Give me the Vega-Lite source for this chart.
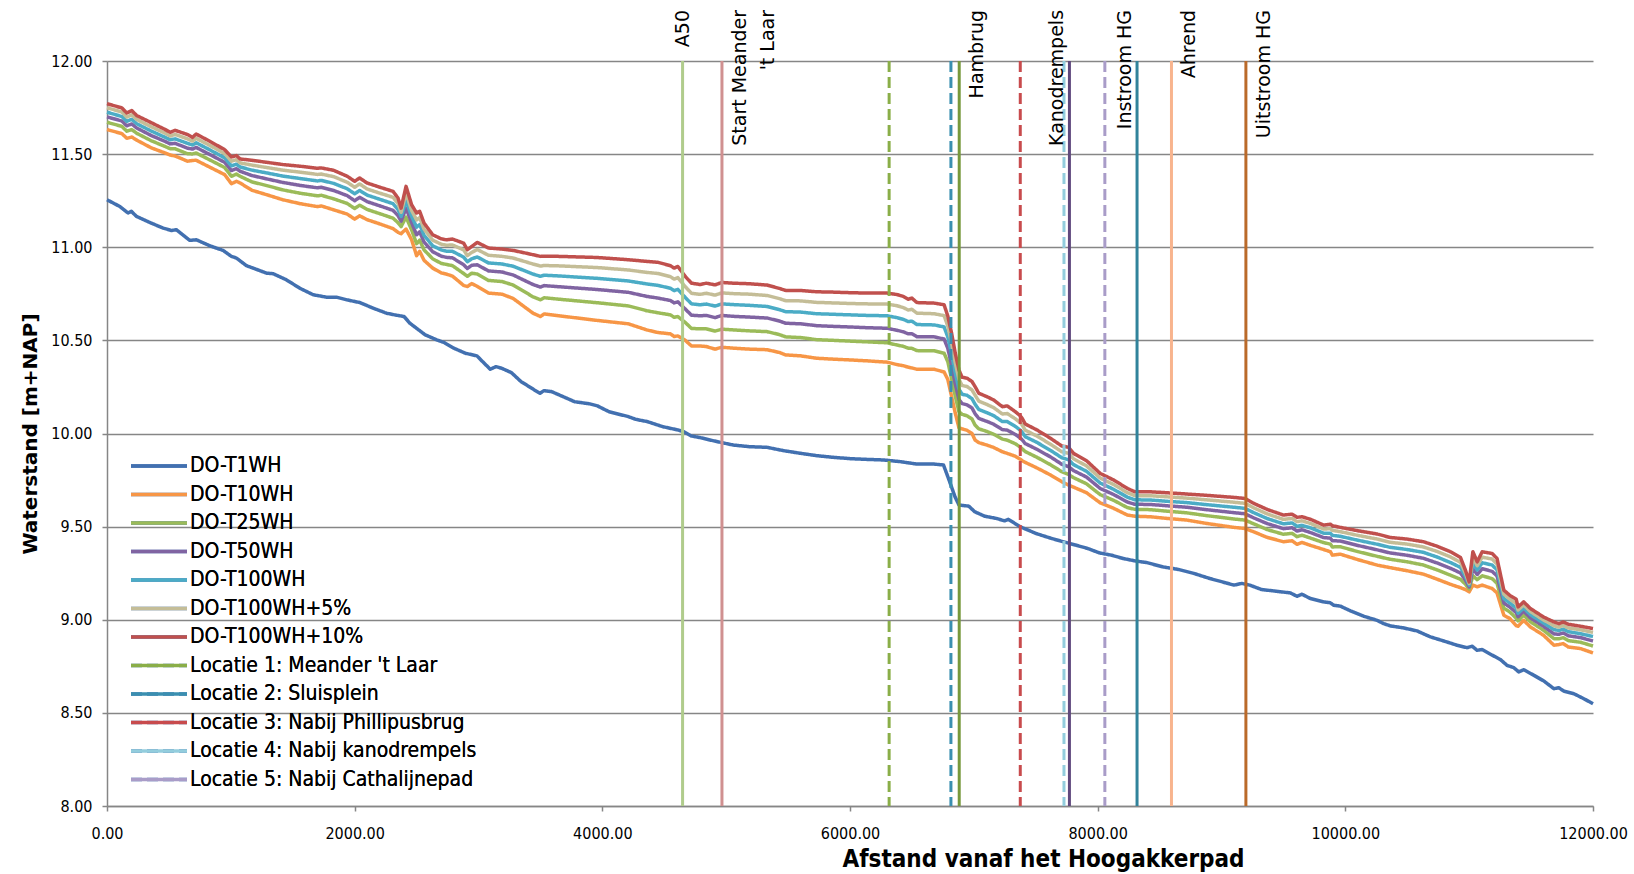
{
  "$schema": "https://vega.github.io/schema/vega-lite/v6.json",
  "width": 1486,
  "height": 745,
  "autosize": {"type": "none"},
  "padding": {"left": 107, "top": 61, "right": 41, "bottom": 68},
  "background": "#ffffff",
  "config": {
    "view": {"stroke": null},
    "axis": {
      "domainColor": "#868686", "domainWidth": 1.5,
      "gridColor": "#868686", "gridWidth": 1.5,
      "tickColor": "#868686", "tickWidth": 1.5, "tickSize": 5,
      "labelFont": "Liberation Sans Narrow, DejaVu Sans Condensed, sans-serif",
      "labelFontSize": 16, "labelColor": "#000000", "titleColor": "#000000"
    },
    "axisX": {
      "labelPadding": 14,
      "titleFont": "Liberation Sans Narrow, DejaVu Sans Condensed, sans-serif",
      "titleFontSize": 24, "titleFontWeight": "bold"
    },
    "axisY": {
      "labelPadding": 10,
      "titleFont": "DejaVu Sans", "titleFontSize": 20, "titleFontWeight": "bold"
    },
    "legend": {
      "orient": "none", "legendX": 40, "legendY": 393, "padding": 0,
      "symbolType": "M-2.8,0H2.8", "symbolSize": 400, "symbolStrokeWidth": 3.5,
      "labelFont": "Liberation Sans Narrow, DejaVu Sans Condensed, sans-serif",
      "labelFontSize": 21, "labelColor": "#000000", "labelOffset": 19, "labelLimit": 500,
      "rowPadding": 6.5, "symbolLimit": 0
    }
  },
  "datasets": {
    "peilen": [
      {"x":0,"DO-T10WH":11.632,"DO-T25WH":11.671,"DO-T50WH":11.700,"DO-T100WH":11.725,"DO-T100WH+5%":11.749,"DO-T100WH+10%":11.771},
      {"x":120,"DO-T10WH":11.610,"DO-T25WH":11.649,"DO-T50WH":11.678,"DO-T100WH":11.702,"DO-T100WH+5%":11.726,"DO-T100WH+10%":11.748},
      {"x":160,"DO-T10WH":11.585,"DO-T25WH":11.623,"DO-T50WH":11.652,"DO-T100WH":11.676,"DO-T100WH+5%":11.699,"DO-T100WH+10%":11.721},
      {"x":200,"DO-T10WH":11.592,"DO-T25WH":11.632,"DO-T50WH":11.662,"DO-T100WH":11.687,"DO-T100WH+5%":11.711,"DO-T100WH+10%":11.734},
      {"x":240,"DO-T10WH":11.575,"DO-T25WH":11.612,"DO-T50WH":11.640,"DO-T100WH":11.663,"DO-T100WH+5%":11.686,"DO-T100WH+10%":11.707},
      {"x":360,"DO-T10WH":11.533,"DO-T25WH":11.571,"DO-T50WH":11.599,"DO-T100WH":11.623,"DO-T100WH+5%":11.646,"DO-T100WH+10%":11.668},
      {"x":470,"DO-T10WH":11.506,"DO-T25WH":11.541,"DO-T50WH":11.568,"DO-T100WH":11.590,"DO-T100WH+5%":11.612,"DO-T100WH+10%":11.632},
      {"x":510,"DO-T10WH":11.495,"DO-T25WH":11.529,"DO-T50WH":11.555,"DO-T100WH":11.577,"DO-T100WH+5%":11.597,"DO-T100WH+10%":11.617},
      {"x":550,"DO-T10WH":11.490,"DO-T25WH":11.529,"DO-T50WH":11.558,"DO-T100WH":11.582,"DO-T100WH+5%":11.606,"DO-T100WH+10%":11.628},
      {"x":650,"DO-T10WH":11.462,"DO-T25WH":11.502,"DO-T50WH":11.532,"DO-T100WH":11.558,"DO-T100WH+5%":11.582,"DO-T100WH+10%":11.605},
      {"x":690,"DO-T10WH":11.466,"DO-T25WH":11.501,"DO-T50WH":11.527,"DO-T100WH":11.549,"DO-T100WH+5%":11.570,"DO-T100WH+10%":11.590},
      {"x":720,"DO-T10WH":11.467,"DO-T25WH":11.506,"DO-T50WH":11.536,"DO-T100WH":11.561,"DO-T100WH+5%":11.585,"DO-T100WH+10%":11.608},
      {"x":830,"DO-T10WH":11.430,"DO-T25WH":11.469,"DO-T50WH":11.498,"DO-T100WH":11.523,"DO-T100WH+5%":11.547,"DO-T100WH+10%":11.569},
      {"x":950,"DO-T10WH":11.390,"DO-T25WH":11.428,"DO-T50WH":11.456,"DO-T100WH":11.480,"DO-T100WH+5%":11.503,"DO-T100WH+10%":11.524},
      {"x":1005,"DO-T10WH":11.341,"DO-T25WH":11.381,"DO-T50WH":11.412,"DO-T100WH":11.437,"DO-T100WH+5%":11.462,"DO-T100WH+10%":11.485},
      {"x":1045,"DO-T10WH":11.354,"DO-T25WH":11.393,"DO-T50WH":11.422,"DO-T100WH":11.446,"DO-T100WH+5%":11.470,"DO-T100WH+10%":11.492},
      {"x":1075,"DO-T10WH":11.345,"DO-T25WH":11.381,"DO-T50WH":11.408,"DO-T100WH":11.431,"DO-T100WH+5%":11.453,"DO-T100WH+10%":11.474},
      {"x":1170,"DO-T10WH":11.306,"DO-T25WH":11.351,"DO-T50WH":11.385,"DO-T100WH":11.414,"DO-T100WH+5%":11.441,"DO-T100WH+10%":11.467},
      {"x":1290,"DO-T10WH":11.282,"DO-T25WH":11.331,"DO-T50WH":11.367,"DO-T100WH":11.399,"DO-T100WH+5%":11.428,"DO-T100WH+10%":11.456},
      {"x":1420,"DO-T10WH":11.255,"DO-T25WH":11.308,"DO-T50WH":11.348,"DO-T100WH":11.382,"DO-T100WH+5%":11.414,"DO-T100WH+10%":11.444},
      {"x":1560,"DO-T10WH":11.234,"DO-T25WH":11.290,"DO-T50WH":11.332,"DO-T100WH":11.369,"DO-T100WH+5%":11.403,"DO-T100WH+10%":11.435},
      {"x":1700,"DO-T10WH":11.218,"DO-T25WH":11.276,"DO-T50WH":11.319,"DO-T100WH":11.356,"DO-T100WH+5%":11.391,"DO-T100WH+10%":11.424},
      {"x":1730,"DO-T10WH":11.222,"DO-T25WH":11.279,"DO-T50WH":11.322,"DO-T100WH":11.359,"DO-T100WH+5%":11.393,"DO-T100WH+10%":11.426},
      {"x":1830,"DO-T10WH":11.201,"DO-T25WH":11.260,"DO-T50WH":11.305,"DO-T100WH":11.343,"DO-T100WH+5%":11.379,"DO-T100WH+10%":11.413},
      {"x":1940,"DO-T10WH":11.178,"DO-T25WH":11.235,"DO-T50WH":11.277,"DO-T100WH":11.314,"DO-T100WH+5%":11.349,"DO-T100WH+10%":11.381},
      {"x":2000,"DO-T10WH":11.151,"DO-T25WH":11.208,"DO-T50WH":11.250,"DO-T100WH":11.287,"DO-T100WH+5%":11.322,"DO-T100WH+10%":11.354},
      {"x":2040,"DO-T10WH":11.169,"DO-T25WH":11.226,"DO-T50WH":11.268,"DO-T100WH":11.305,"DO-T100WH+5%":11.340,"DO-T100WH+10%":11.372},
      {"x":2100,"DO-T10WH":11.148,"DO-T25WH":11.203,"DO-T50WH":11.245,"DO-T100WH":11.280,"DO-T100WH+5%":11.313,"DO-T100WH+10%":11.345},
      {"x":2200,"DO-T10WH":11.126,"DO-T25WH":11.181,"DO-T50WH":11.223,"DO-T100WH":11.258,"DO-T100WH+5%":11.291,"DO-T100WH+10%":11.323},
      {"x":2310,"DO-T10WH":11.100,"DO-T25WH":11.156,"DO-T50WH":11.198,"DO-T100WH":11.234,"DO-T100WH+5%":11.268,"DO-T100WH+10%":11.300},
      {"x":2350,"DO-T10WH":11.080,"DO-T25WH":11.132,"DO-T50WH":11.170,"DO-T100WH":11.203,"DO-T100WH+5%":11.235,"DO-T100WH+10%":11.264},
      {"x":2375,"DO-T10WH":11.073,"DO-T25WH":11.111,"DO-T50WH":11.140,"DO-T100WH":11.165,"DO-T100WH+5%":11.188,"DO-T100WH+10%":11.210},
      {"x":2415,"DO-T10WH":11.098,"DO-T25WH":11.162,"DO-T50WH":11.210,"DO-T100WH":11.251,"DO-T100WH+5%":11.290,"DO-T100WH+10%":11.327},
      {"x":2460,"DO-T10WH":11.040,"DO-T25WH":11.093,"DO-T50WH":11.132,"DO-T100WH":11.166,"DO-T100WH+5%":11.198,"DO-T100WH+10%":11.228},
      {"x":2500,"DO-T10WH":10.955,"DO-T25WH":11.019,"DO-T50WH":11.067,"DO-T100WH":11.108,"DO-T100WH+5%":11.147,"DO-T100WH+10%":11.184},
      {"x":2525,"DO-T10WH":10.978,"DO-T25WH":11.038,"DO-T50WH":11.083,"DO-T100WH":11.122,"DO-T100WH+5%":11.159,"DO-T100WH+10%":11.193},
      {"x":2560,"DO-T10WH":10.930,"DO-T25WH":10.986,"DO-T50WH":11.028,"DO-T100WH":11.064,"DO-T100WH+5%":11.098,"DO-T100WH+10%":11.130},
      {"x":2630,"DO-T10WH":10.888,"DO-T25WH":10.938,"DO-T50WH":10.976,"DO-T100WH":11.008,"DO-T100WH+5%":11.038,"DO-T100WH+10%":11.067},
      {"x":2700,"DO-T10WH":10.862,"DO-T25WH":10.913,"DO-T50WH":10.952,"DO-T100WH":10.985,"DO-T100WH+5%":11.016,"DO-T100WH+10%":11.045},
      {"x":2740,"DO-T10WH":10.856,"DO-T25WH":10.908,"DO-T50WH":10.946,"DO-T100WH":10.979,"DO-T100WH+5%":11.011,"DO-T100WH+10%":11.040},
      {"x":2790,"DO-T10WH":10.845,"DO-T25WH":10.901,"DO-T50WH":10.943,"DO-T100WH":10.978,"DO-T100WH+5%":11.012,"DO-T100WH+10%":11.044},
      {"x":2880,"DO-T10WH":10.795,"DO-T25WH":10.859,"DO-T50WH":10.906,"DO-T100WH":10.947,"DO-T100WH+5%":10.986,"DO-T100WH+10%":11.022},
      {"x":2910,"DO-T10WH":10.789,"DO-T25WH":10.844,"DO-T50WH":10.886,"DO-T100WH":10.922,"DO-T100WH+5%":10.955,"DO-T100WH+10%":10.987},
      {"x":2945,"DO-T10WH":10.805,"DO-T25WH":10.861,"DO-T50WH":10.903,"DO-T100WH":10.938,"DO-T100WH+5%":10.972,"DO-T100WH+10%":11.004},
      {"x":2990,"DO-T10WH":10.790,"DO-T25WH":10.856,"DO-T50WH":10.906,"DO-T100WH":10.948,"DO-T100WH+5%":10.988,"DO-T100WH+10%":11.026},
      {"x":3080,"DO-T10WH":10.754,"DO-T25WH":10.822,"DO-T50WH":10.873,"DO-T100WH":10.916,"DO-T100WH+5%":10.957,"DO-T100WH+10%":10.996},
      {"x":3190,"DO-T10WH":10.748,"DO-T25WH":10.816,"DO-T50WH":10.867,"DO-T100WH":10.910,"DO-T100WH+5%":10.951,"DO-T100WH+10%":10.990},
      {"x":3280,"DO-T10WH":10.725,"DO-T25WH":10.797,"DO-T50WH":10.851,"DO-T100WH":10.898,"DO-T100WH+5%":10.942,"DO-T100WH+10%":10.983},
      {"x":3440,"DO-T10WH":10.646,"DO-T25WH":10.734,"DO-T50WH":10.800,"DO-T100WH":10.856,"DO-T100WH+5%":10.910,"DO-T100WH+10%":10.960},
      {"x":3500,"DO-T10WH":10.628,"DO-T25WH":10.718,"DO-T50WH":10.786,"DO-T100WH":10.844,"DO-T100WH+5%":10.899,"DO-T100WH+10%":10.951},
      {"x":3530,"DO-T10WH":10.642,"DO-T25WH":10.729,"DO-T50WH":10.794,"DO-T100WH":10.850,"DO-T100WH+5%":10.902,"DO-T100WH+10%":10.952},
      {"x":3650,"DO-T10WH":10.632,"DO-T25WH":10.721,"DO-T50WH":10.788,"DO-T100WH":10.846,"DO-T100WH+5%":10.900,"DO-T100WH+10%":10.951},
      {"x":3960,"DO-T10WH":10.607,"DO-T25WH":10.702,"DO-T50WH":10.773,"DO-T100WH":10.833,"DO-T100WH+5%":10.891,"DO-T100WH+10%":10.945},
      {"x":4210,"DO-T10WH":10.589,"DO-T25WH":10.685,"DO-T50WH":10.758,"DO-T100WH":10.819,"DO-T100WH+5%":10.878,"DO-T100WH+10%":10.933},
      {"x":4360,"DO-T10WH":10.556,"DO-T25WH":10.659,"DO-T50WH":10.736,"DO-T100WH":10.803,"DO-T100WH+5%":10.865,"DO-T100WH+10%":10.924},
      {"x":4450,"DO-T10WH":10.542,"DO-T25WH":10.648,"DO-T50WH":10.727,"DO-T100WH":10.795,"DO-T100WH+5%":10.859,"DO-T100WH+10%":10.919},
      {"x":4550,"DO-T10WH":10.535,"DO-T25WH":10.637,"DO-T50WH":10.714,"DO-T100WH":10.780,"DO-T100WH+5%":10.842,"DO-T100WH+10%":10.901},
      {"x":4580,"DO-T10WH":10.521,"DO-T25WH":10.624,"DO-T50WH":10.701,"DO-T100WH":10.767,"DO-T100WH+5%":10.829,"DO-T100WH+10%":10.888},
      {"x":4610,"DO-T10WH":10.524,"DO-T25WH":10.628,"DO-T50WH":10.707,"DO-T100WH":10.774,"DO-T100WH+5%":10.837,"DO-T100WH+10%":10.897},
      {"x":4670,"DO-T10WH":10.500,"DO-T25WH":10.596,"DO-T50WH":10.668,"DO-T100WH":10.730,"DO-T100WH+5%":10.788,"DO-T100WH+10%":10.843},
      {"x":4720,"DO-T10WH":10.470,"DO-T25WH":10.564,"DO-T50WH":10.635,"DO-T100WH":10.696,"DO-T100WH+5%":10.753,"DO-T100WH+10%":10.807},
      {"x":4790,"DO-T10WH":10.470,"DO-T25WH":10.562,"DO-T50WH":10.632,"DO-T100WH":10.691,"DO-T100WH+5%":10.747,"DO-T100WH+10%":10.800},
      {"x":4840,"DO-T10WH":10.467,"DO-T25WH":10.562,"DO-T50WH":10.634,"DO-T100WH":10.695,"DO-T100WH+5%":10.753,"DO-T100WH+10%":10.807},
      {"x":4910,"DO-T10WH":10.453,"DO-T25WH":10.550,"DO-T50WH":10.622,"DO-T100WH":10.684,"DO-T100WH+5%":10.743,"DO-T100WH+10%":10.798},
      {"x":4965,"DO-T10WH":10.463,"DO-T25WH":10.560,"DO-T50WH":10.634,"DO-T100WH":10.696,"DO-T100WH+5%":10.755,"DO-T100WH+10%":10.811},
      {"x":5060,"DO-T10WH":10.458,"DO-T25WH":10.556,"DO-T50WH":10.629,"DO-T100WH":10.692,"DO-T100WH+5%":10.751,"DO-T100WH+10%":10.807},
      {"x":5190,"DO-T10WH":10.453,"DO-T25WH":10.551,"DO-T50WH":10.625,"DO-T100WH":10.688,"DO-T100WH+5%":10.748,"DO-T100WH+10%":10.804},
      {"x":5330,"DO-T10WH":10.450,"DO-T25WH":10.547,"DO-T50WH":10.620,"DO-T100WH":10.682,"DO-T100WH+5%":10.741,"DO-T100WH+10%":10.797},
      {"x":5430,"DO-T10WH":10.435,"DO-T25WH":10.531,"DO-T50WH":10.604,"DO-T100WH":10.665,"DO-T100WH+5%":10.724,"DO-T100WH+10%":10.779},
      {"x":5480,"DO-T10WH":10.422,"DO-T25WH":10.519,"DO-T50WH":10.592,"DO-T100WH":10.654,"DO-T100WH+5%":10.713,"DO-T100WH+10%":10.768},
      {"x":5600,"DO-T10WH":10.417,"DO-T25WH":10.515,"DO-T50WH":10.589,"DO-T100WH":10.652,"DO-T100WH+5%":10.712,"DO-T100WH+10%":10.768},
      {"x":5730,"DO-T10WH":10.404,"DO-T25WH":10.504,"DO-T50WH":10.579,"DO-T100WH":10.643,"DO-T100WH+5%":10.704,"DO-T100WH+10%":10.761},
      {"x":5870,"DO-T10WH":10.399,"DO-T25WH":10.500,"DO-T50WH":10.575,"DO-T100WH":10.640,"DO-T100WH+5%":10.701,"DO-T100WH+10%":10.759},
      {"x":6000,"DO-T10WH":10.395,"DO-T25WH":10.496,"DO-T50WH":10.572,"DO-T100WH":10.637,"DO-T100WH+5%":10.698,"DO-T100WH+10%":10.756},
      {"x":6140,"DO-T10WH":10.390,"DO-T25WH":10.492,"DO-T50WH":10.568,"DO-T100WH":10.634,"DO-T100WH+5%":10.696,"DO-T100WH+10%":10.754},
      {"x":6300,"DO-T10WH":10.383,"DO-T25WH":10.487,"DO-T50WH":10.565,"DO-T100WH":10.632,"DO-T100WH+5%":10.695,"DO-T100WH+10%":10.754},
      {"x":6380,"DO-T10WH":10.370,"DO-T25WH":10.475,"DO-T50WH":10.554,"DO-T100WH":10.622,"DO-T100WH+5%":10.686,"DO-T100WH+10%":10.746},
      {"x":6430,"DO-T10WH":10.364,"DO-T25WH":10.468,"DO-T50WH":10.546,"DO-T100WH":10.613,"DO-T100WH+5%":10.676,"DO-T100WH+10%":10.736},
      {"x":6470,"DO-T10WH":10.356,"DO-T25WH":10.458,"DO-T50WH":10.535,"DO-T100WH":10.601,"DO-T100WH+5%":10.663,"DO-T100WH+10%":10.721},
      {"x":6500,"DO-T10WH":10.352,"DO-T25WH":10.457,"DO-T50WH":10.536,"DO-T100WH":10.603,"DO-T100WH+5%":10.667,"DO-T100WH+10%":10.727},
      {"x":6540,"DO-T10WH":10.345,"DO-T25WH":10.445,"DO-T50WH":10.520,"DO-T100WH":10.585,"DO-T100WH+5%":10.646,"DO-T100WH+10%":10.703},
      {"x":6680,"DO-T10WH":10.345,"DO-T25WH":10.444,"DO-T50WH":10.519,"DO-T100WH":10.583,"DO-T100WH+5%":10.643,"DO-T100WH+10%":10.700},
      {"x":6760,"DO-T10WH":10.330,"DO-T25WH":10.431,"DO-T50WH":10.507,"DO-T100WH":10.572,"DO-T100WH+5%":10.633,"DO-T100WH+10%":10.691},
      {"x":6790,"DO-T10WH":10.290,"DO-T25WH":10.385,"DO-T50WH":10.457,"DO-T100WH":10.518,"DO-T100WH+5%":10.576,"DO-T100WH+10%":10.630},
      {"x":6820,"DO-T10WH":10.200,"DO-T25WH":10.295,"DO-T50WH":10.367,"DO-T100WH":10.428,"DO-T100WH+5%":10.486,"DO-T100WH+10%":10.540},
      {"x":6850,"DO-T10WH":10.110,"DO-T25WH":10.200,"DO-T50WH":10.267,"DO-T100WH":10.325,"DO-T100WH+5%":10.380,"DO-T100WH+10%":10.431},
      {"x":6880,"DO-T10WH":10.030,"DO-T25WH":10.117,"DO-T50WH":10.182,"DO-T100WH":10.238,"DO-T100WH+5%":10.291,"DO-T100WH+10%":10.341},
      {"x":6905,"DO-T10WH":10.025,"DO-T25WH":10.103,"DO-T50WH":10.161,"DO-T100WH":10.211,"DO-T100WH+5%":10.258,"DO-T100WH+10%":10.302},
      {"x":6945,"DO-T10WH":10.017,"DO-T25WH":10.095,"DO-T50WH":10.154,"DO-T100WH":10.205,"DO-T100WH+5%":10.252,"DO-T100WH+10%":10.297},
      {"x":6985,"DO-T10WH":10.000,"DO-T25WH":10.078,"DO-T50WH":10.137,"DO-T100WH":10.187,"DO-T100WH+5%":10.234,"DO-T100WH+10%":10.279},
      {"x":7010,"DO-T10WH":9.965,"DO-T25WH":10.045,"DO-T50WH":10.106,"DO-T100WH":10.157,"DO-T100WH+5%":10.206,"DO-T100WH+10%":10.252},
      {"x":7040,"DO-T10WH":9.951,"DO-T25WH":10.025,"DO-T50WH":10.081,"DO-T100WH":10.129,"DO-T100WH+5%":10.174,"DO-T100WH+10%":10.216},
      {"x":7105,"DO-T10WH":9.938,"DO-T25WH":10.011,"DO-T50WH":10.065,"DO-T100WH":10.112,"DO-T100WH+5%":10.156,"DO-T100WH+10%":10.198},
      {"x":7160,"DO-T10WH":9.925,"DO-T25WH":9.996,"DO-T50WH":10.050,"DO-T100WH":10.096,"DO-T100WH+5%":10.139,"DO-T100WH+10%":10.180},
      {"x":7230,"DO-T10WH":9.902,"DO-T25WH":9.970,"DO-T50WH":10.021,"DO-T100WH":10.064,"DO-T100WH+5%":10.105,"DO-T100WH+10%":10.144},
      {"x":7270,"DO-T10WH":9.893,"DO-T25WH":9.964,"DO-T50WH":10.018,"DO-T100WH":10.064,"DO-T100WH+5%":10.107,"DO-T100WH+10%":10.148},
      {"x":7335,"DO-T10WH":9.878,"DO-T25WH":9.945,"DO-T50WH":9.995,"DO-T100WH":10.038,"DO-T100WH+5%":10.079,"DO-T100WH+10%":10.117},
      {"x":7375,"DO-T10WH":9.862,"DO-T25WH":9.927,"DO-T50WH":9.976,"DO-T100WH":10.018,"DO-T100WH+5%":10.058,"DO-T100WH+10%":10.095},
      {"x":7390,"DO-T10WH":9.854,"DO-T25WH":9.918,"DO-T50WH":9.966,"DO-T100WH":10.007,"DO-T100WH+5%":10.046,"DO-T100WH+10%":10.082},
      {"x":7415,"DO-T10WH":9.845,"DO-T25WH":9.903,"DO-T50WH":9.946,"DO-T100WH":9.983,"DO-T100WH+5%":10.018,"DO-T100WH+10%":10.051},
      {"x":7510,"DO-T10WH":9.815,"DO-T25WH":9.872,"DO-T50WH":9.915,"DO-T100WH":9.952,"DO-T100WH+5%":9.986,"DO-T100WH+10%":10.019},
      {"x":7620,"DO-T10WH":9.777,"DO-T25WH":9.832,"DO-T50WH":9.874,"DO-T100WH":9.909,"DO-T100WH+5%":9.942,"DO-T100WH+10%":9.974},
      {"x":7710,"DO-T10WH":9.741,"DO-T25WH":9.795,"DO-T50WH":9.835,"DO-T100WH":9.870,"DO-T100WH+5%":9.902,"DO-T100WH+10%":9.933},
      {"x":7765,"DO-T10WH":9.723,"DO-T25WH":9.780,"DO-T50WH":9.822,"DO-T100WH":9.859,"DO-T100WH+5%":9.894,"DO-T100WH+10%":9.926},
      {"x":7805,"DO-T10WH":9.712,"DO-T25WH":9.763,"DO-T50WH":9.801,"DO-T100WH":9.833,"DO-T100WH+5%":9.864,"DO-T100WH+10%":9.893},
      {"x":7910,"DO-T10WH":9.682,"DO-T25WH":9.730,"DO-T50WH":9.766,"DO-T100WH":9.797,"DO-T100WH+5%":9.826,"DO-T100WH+10%":9.854},
      {"x":8020,"DO-T10WH":9.628,"DO-T25WH":9.672,"DO-T50WH":9.705,"DO-T100WH":9.734,"DO-T100WH+5%":9.761,"DO-T100WH+10%":9.786},
      {"x":8130,"DO-T10WH":9.598,"DO-T25WH":9.641,"DO-T50WH":9.672,"DO-T100WH":9.700,"DO-T100WH+5%":9.726,"DO-T100WH+10%":9.750},
      {"x":8240,"DO-T10WH":9.562,"DO-T25WH":9.602,"DO-T50WH":9.632,"DO-T100WH":9.658,"DO-T100WH+5%":9.682,"DO-T100WH+10%":9.705},
      {"x":8300,"DO-T10WH":9.556,"DO-T25WH":9.593,"DO-T50WH":9.620,"DO-T100WH":9.644,"DO-T100WH+5%":9.666,"DO-T100WH+10%":9.687},
      {"x":8425,"DO-T10WH":9.553,"DO-T25WH":9.591,"DO-T50WH":9.619,"DO-T100WH":9.643,"DO-T100WH+5%":9.666,"DO-T100WH+10%":9.687},
      {"x":8560,"DO-T10WH":9.544,"DO-T25WH":9.583,"DO-T50WH":9.612,"DO-T100WH":9.636,"DO-T100WH+5%":9.660,"DO-T100WH+10%":9.682},
      {"x":8720,"DO-T10WH":9.535,"DO-T25WH":9.574,"DO-T50WH":9.604,"DO-T100WH":9.629,"DO-T100WH+5%":9.653,"DO-T100WH+10%":9.675},
      {"x":8880,"DO-T10WH":9.517,"DO-T25WH":9.559,"DO-T50WH":9.591,"DO-T100WH":9.618,"DO-T100WH+5%":9.644,"DO-T100WH+10%":9.668},
      {"x":9100,"DO-T10WH":9.496,"DO-T25WH":9.541,"DO-T50WH":9.575,"DO-T100WH":9.604,"DO-T100WH+5%":9.631,"DO-T100WH+10%":9.657},
      {"x":9190,"DO-T10WH":9.490,"DO-T25WH":9.535,"DO-T50WH":9.569,"DO-T100WH":9.598,"DO-T100WH+5%":9.625,"DO-T100WH+10%":9.651},
      {"x":9260,"DO-T10WH":9.472,"DO-T25WH":9.515,"DO-T50WH":9.547,"DO-T100WH":9.575,"DO-T100WH+5%":9.601,"DO-T100WH+10%":9.625},
      {"x":9370,"DO-T10WH":9.442,"DO-T25WH":9.484,"DO-T50WH":9.516,"DO-T100WH":9.543,"DO-T100WH+5%":9.568,"DO-T100WH+10%":9.592},
      {"x":9500,"DO-T10WH":9.419,"DO-T25WH":9.459,"DO-T50WH":9.489,"DO-T100WH":9.515,"DO-T100WH+5%":9.539,"DO-T100WH+10%":9.562},
      {"x":9570,"DO-T10WH":9.424,"DO-T25WH":9.464,"DO-T50WH":9.494,"DO-T100WH":9.520,"DO-T100WH+5%":9.544,"DO-T100WH+10%":9.567},
      {"x":9610,"DO-T10WH":9.405,"DO-T25WH":9.446,"DO-T50WH":9.476,"DO-T100WH":9.502,"DO-T100WH+5%":9.527,"DO-T100WH+10%":9.550},
      {"x":9650,"DO-T10WH":9.415,"DO-T25WH":9.454,"DO-T50WH":9.483,"DO-T100WH":9.507,"DO-T100WH+5%":9.531,"DO-T100WH+10%":9.553},
      {"x":9720,"DO-T10WH":9.399,"DO-T25WH":9.438,"DO-T50WH":9.468,"DO-T100WH":9.493,"DO-T100WH+5%":9.517,"DO-T100WH+10%":9.539},
      {"x":9825,"DO-T10WH":9.377,"DO-T25WH":9.414,"DO-T50WH":9.441,"DO-T100WH":9.465,"DO-T100WH+5%":9.487,"DO-T100WH+10%":9.508},
      {"x":9880,"DO-T10WH":9.365,"DO-T25WH":9.406,"DO-T50WH":9.438,"DO-T100WH":9.464,"DO-T100WH+5%":9.489,"DO-T100WH+10%":9.513},
      {"x":9895,"DO-T10WH":9.347,"DO-T25WH":9.391,"DO-T50WH":9.424,"DO-T100WH":9.453,"DO-T100WH+5%":9.480,"DO-T100WH+10%":9.505},
      {"x":9960,"DO-T10WH":9.352,"DO-T25WH":9.392,"DO-T50WH":9.423,"DO-T100WH":9.448,"DO-T100WH+5%":9.473,"DO-T100WH+10%":9.496},
      {"x":10100,"DO-T10WH":9.323,"DO-T25WH":9.366,"DO-T50WH":9.399,"DO-T100WH":9.427,"DO-T100WH+5%":9.453,"DO-T100WH+10%":9.478},
      {"x":10260,"DO-T10WH":9.293,"DO-T25WH":9.340,"DO-T50WH":9.375,"DO-T100WH":9.405,"DO-T100WH+5%":9.433,"DO-T100WH+10%":9.460},
      {"x":10360,"DO-T10WH":9.280,"DO-T25WH":9.325,"DO-T50WH":9.359,"DO-T100WH":9.389,"DO-T100WH+5%":9.416,"DO-T100WH+10%":9.442},
      {"x":10500,"DO-T10WH":9.263,"DO-T25WH":9.311,"DO-T50WH":9.346,"DO-T100WH":9.377,"DO-T100WH+5%":9.406,"DO-T100WH+10%":9.433},
      {"x":10630,"DO-T10WH":9.245,"DO-T25WH":9.294,"DO-T50WH":9.330,"DO-T100WH":9.362,"DO-T100WH+5%":9.391,"DO-T100WH+10%":9.419},
      {"x":10740,"DO-T10WH":9.218,"DO-T25WH":9.268,"DO-T50WH":9.305,"DO-T100WH":9.337,"DO-T100WH+5%":9.367,"DO-T100WH+10%":9.395},
      {"x":10850,"DO-T10WH":9.190,"DO-T25WH":9.239,"DO-T50WH":9.276,"DO-T100WH":9.307,"DO-T100WH+5%":9.337,"DO-T100WH+10%":9.365},
      {"x":10930,"DO-T10WH":9.172,"DO-T25WH":9.217,"DO-T50WH":9.251,"DO-T100WH":9.281,"DO-T100WH+5%":9.308,"DO-T100WH+10%":9.334},
      {"x":10970,"DO-T10WH":9.162,"DO-T25WH":9.191,"DO-T50WH":9.213,"DO-T100WH":9.232,"DO-T100WH+5%":9.249,"DO-T100WH+10%":9.266},
      {"x":11000,"DO-T10WH":9.150,"DO-T25WH":9.165,"DO-T50WH":9.176,"DO-T100WH":9.186,"DO-T100WH+5%":9.195,"DO-T100WH+10%":9.203},
      {"x":11030,"DO-T10WH":9.186,"DO-T25WH":9.236,"DO-T50WH":9.274,"DO-T100WH":9.306,"DO-T100WH+5%":9.336,"DO-T100WH+10%":9.365},
      {"x":11065,"DO-T10WH":9.177,"DO-T25WH":9.215,"DO-T50WH":9.243,"DO-T100WH":9.267,"DO-T100WH+5%":9.290,"DO-T100WH+10%":9.311},
      {"x":11105,"DO-T10WH":9.186,"DO-T25WH":9.236,"DO-T50WH":9.274,"DO-T100WH":9.306,"DO-T100WH+5%":9.336,"DO-T100WH+10%":9.365},
      {"x":11185,"DO-T10WH":9.168,"DO-T25WH":9.221,"DO-T50WH":9.260,"DO-T100WH":9.294,"DO-T100WH+5%":9.326,"DO-T100WH+10%":9.356},
      {"x":11225,"DO-T10WH":9.144,"DO-T25WH":9.196,"DO-T50WH":9.235,"DO-T100WH":9.268,"DO-T100WH+5%":9.299,"DO-T100WH+10%":9.329},
      {"x":11280,"DO-T10WH":9.024,"DO-T25WH":9.062,"DO-T50WH":9.090,"DO-T100WH":9.114,"DO-T100WH+5%":9.137,"DO-T100WH+10%":9.159},
      {"x":11330,"DO-T10WH":9.006,"DO-T25WH":9.041,"DO-T50WH":9.067,"DO-T100WH":9.089,"DO-T100WH+5%":9.110,"DO-T100WH+10%":9.130},
      {"x":11380,"DO-T10WH":8.968,"DO-T25WH":9.008,"DO-T50WH":9.038,"DO-T100WH":9.063,"DO-T100WH+5%":9.087,"DO-T100WH+10%":9.110},
      {"x":11395,"DO-T10WH":8.965,"DO-T25WH":8.994,"DO-T50WH":9.016,"DO-T100WH":9.035,"DO-T100WH+5%":9.052,"DO-T100WH+10%":9.069},
      {"x":11440,"DO-T10WH":8.997,"DO-T25WH":9.025,"DO-T50WH":9.046,"DO-T100WH":9.063,"DO-T100WH+5%":9.080,"DO-T100WH+10%":9.096},
      {"x":11495,"DO-T10WH":8.961,"DO-T25WH":8.989,"DO-T50WH":9.010,"DO-T100WH":9.027,"DO-T100WH+5%":9.044,"DO-T100WH+10%":9.060},
      {"x":11600,"DO-T10WH":8.917,"DO-T25WH":8.944,"DO-T50WH":8.965,"DO-T100WH":8.983,"DO-T100WH+5%":8.999,"DO-T100WH+10%":9.015},
      {"x":11685,"DO-T10WH":8.863,"DO-T25WH":8.898,"DO-T50WH":8.924,"DO-T100WH":8.947,"DO-T100WH+5%":8.968,"DO-T100WH+10%":8.988},
      {"x":11725,"DO-T10WH":8.867,"DO-T25WH":8.898,"DO-T50WH":8.922,"DO-T100WH":8.942,"DO-T100WH+5%":8.961,"DO-T100WH+10%":8.979},
      {"x":11760,"DO-T10WH":8.872,"DO-T25WH":8.904,"DO-T50WH":8.929,"DO-T100WH":8.950,"DO-T100WH+5%":8.969,"DO-T100WH+10%":8.988},
      {"x":11800,"DO-T10WH":8.854,"DO-T25WH":8.888,"DO-T50WH":8.914,"DO-T100WH":8.936,"DO-T100WH+5%":8.956,"DO-T100WH+10%":8.976},
      {"x":11900,"DO-T10WH":8.845,"DO-T25WH":8.879,"DO-T50WH":8.904,"DO-T100WH":8.925,"DO-T100WH+5%":8.946,"DO-T100WH+10%":8.965},
      {"x":12000,"DO-T10WH":8.822,"DO-T25WH":8.859,"DO-T50WH":8.886,"DO-T100WH":8.910,"DO-T100WH+5%":8.932,"DO-T100WH+10%":8.953}
    ],
    "t1": [
      {"x":0,"peil":11.255},{"x":103,"peil":11.219},{"x":170,"peil":11.184},{"x":197,"peil":11.193},
      {"x":237,"peil":11.166},{"x":345,"peil":11.133},{"x":453,"peil":11.103},{"x":520,"peil":11.090},
      {"x":560,"peil":11.094},{"x":668,"peil":11.037},{"x":722,"peil":11.040},{"x":830,"peil":11.008},
      {"x":937,"peil":10.983},{"x":1005,"peil":10.951},{"x":1045,"peil":10.942},{"x":1126,"peil":10.901},
      {"x":1180,"peil":10.888},{"x":1288,"peil":10.861},{"x":1342,"peil":10.858},{"x":1449,"peil":10.825},
      {"x":1557,"peil":10.780},{"x":1665,"peil":10.745},{"x":1772,"peil":10.732},{"x":1853,"peil":10.732},
      {"x":1934,"peil":10.718},{"x":2042,"peil":10.703},{"x":2149,"peil":10.673},{"x":2257,"peil":10.646},
      {"x":2322,"peil":10.637},{"x":2399,"peil":10.628},{"x":2446,"peil":10.592},{"x":2569,"peil":10.530},
      {"x":2662,"peil":10.503},{"x":2724,"peil":10.488},{"x":2801,"peil":10.458},{"x":2894,"peil":10.431},
      {"x":2987,"peil":10.417},{"x":3033,"peil":10.386},{"x":3095,"peil":10.345},{"x":3141,"peil":10.359},
      {"x":3188,"peil":10.350},{"x":3265,"peil":10.327},{"x":3343,"peil":10.279},{"x":3451,"peil":10.234},
      {"x":3497,"peil":10.216},{"x":3528,"peil":10.230},{"x":3590,"peil":10.225},{"x":3652,"peil":10.207},
      {"x":3775,"peil":10.171},{"x":3899,"peil":10.159},{"x":3961,"peil":10.148},{"x":4054,"peil":10.117},
      {"x":4208,"peil":10.091},{"x":4270,"peil":10.076},{"x":4363,"peil":10.064},{"x":4486,"peil":10.037},
      {"x":4610,"peil":10.019},{"x":4656,"peil":10.010},{"x":4718,"peil":9.987},{"x":4790,"peil":9.978},
      {"x":4870,"peil":9.965},{"x":4964,"peil":9.951},{"x":5058,"peil":9.938},{"x":5193,"peil":9.929},
      {"x":5328,"peil":9.926},{"x":5462,"peil":9.908},{"x":5597,"peil":9.894},{"x":5731,"peil":9.881},
      {"x":5866,"peil":9.872},{"x":6001,"peil":9.865},{"x":6136,"peil":9.861},{"x":6270,"peil":9.858},
      {"x":6405,"peil":9.849},{"x":6539,"peil":9.836},{"x":6674,"peil":9.836},{"x":6755,"peil":9.831},
      {"x":6800,"peil":9.750},{"x":6848,"peil":9.660},{"x":6880,"peil":9.616},{"x":6959,"peil":9.610},
      {"x":7007,"peil":9.580},{"x":7087,"peil":9.556},{"x":7183,"peil":9.544},{"x":7247,"peil":9.531},
      {"x":7279,"peil":9.539},{"x":7375,"peil":9.499},{"x":7503,"peil":9.463},{"x":7630,"peil":9.436},
      {"x":7726,"peil":9.418},{"x":7822,"peil":9.401},{"x":7918,"peil":9.383},{"x":8014,"peil":9.359},
      {"x":8110,"peil":9.347},{"x":8205,"peil":9.329},{"x":8301,"peil":9.316},{"x":8397,"peil":9.307},
      {"x":8525,"peil":9.284},{"x":8653,"peil":9.270},{"x":8780,"peil":9.248},{"x":8908,"peil":9.221},
      {"x":9036,"peil":9.198},{"x":9100,"peil":9.186},{"x":9164,"peil":9.195},{"x":9228,"peil":9.186},
      {"x":9324,"peil":9.162},{"x":9419,"peil":9.155},{"x":9556,"peil":9.144},{"x":9610,"peil":9.126},
      {"x":9650,"peil":9.137},{"x":9717,"peil":9.114},{"x":9825,"peil":9.096},{"x":9879,"peil":9.091},
      {"x":9906,"peil":9.078},{"x":9960,"peil":9.073},{"x":10041,"peil":9.048},{"x":10148,"peil":9.019},
      {"x":10256,"peil":8.997},{"x":10310,"peil":8.979},{"x":10364,"peil":8.967},{"x":10472,"peil":8.956},
      {"x":10579,"peil":8.940},{"x":10687,"peil":8.908},{"x":10795,"peil":8.886},{"x":10903,"peil":8.863},
      {"x":10983,"peil":8.850},{"x":11024,"peil":8.858},{"x":11064,"peil":8.836},{"x":11104,"peil":8.840},
      {"x":11172,"peil":8.815},{"x":11253,"peil":8.786},{"x":11306,"peil":8.755},{"x":11360,"peil":8.743},
      {"x":11400,"peil":8.720},{"x":11441,"peil":8.732},{"x":11522,"peil":8.702},{"x":11603,"peil":8.671},
      {"x":11684,"peil":8.630},{"x":11724,"peil":8.635},{"x":11764,"peil":8.617},{"x":11845,"peil":8.603},
      {"x":11926,"peil":8.576},{"x":12000,"peil":8.549}
    ],
    "locaties": [
      {"reeks":"Locatie 1: Meander 't Laar","x":6316},
      {"reeks":"Locatie 2: Sluisplein","x":6815},
      {"reeks":"Locatie 3: Nabij Phillipusbrug","x":7375},
      {"reeks":"Locatie 4: Nabij kanodrempels","x":7728},
      {"reeks":"Locatie 5: Nabij Cathalijnepad","x":8058}
    ],
    "kunstwerken": [
      {"naam":"A50","x":4648},
      {"naam":"Start Meander\n't Laar","x":4966},
      {"naam":"Hambrug","x":6882},
      {"naam":"Kanodrempels","x":7772},
      {"naam":"Instroom HG","x":8318},
      {"naam":"Ahrend","x":8596},
      {"naam":"Uitstroom HG","x":9197}
    ]
  },
  "layer": [
    {
      "layer": [
        {
          "data": {"name": "peilen"},
          "transform": [{"fold": ["DO-T10WH","DO-T25WH","DO-T50WH","DO-T100WH","DO-T100WH+5%","DO-T100WH+10%"], "as": ["reeks","peil"]}],
          "mark": {"type": "line", "strokeWidth": 3.5, "strokeJoin": "round"},
          "encoding": {
            "x": {"field": "x", "type": "quantitative", "title": "Afstand vanaf het Hoogakkerpad",
              "scale": {"domain": [0, 12000], "nice": false, "zero": false},
              "axis": {"values": [0,2000,4000,6000,8000,10000,12000], "format": ".2f", "grid": false, "labelFlush": false, "labelOverlap": false, "titleX": 936, "titleY": 60, "titleBaseline": "alphabetic"}},
            "y": {"field": "peil", "type": "quantitative", "title": "Waterstand [m+NAP]",
              "scale": {"domain": [8, 12], "nice": false, "zero": false},
              "axis": {"values": [8,8.5,9,9.5,10,10.5,11,11.5,12], "format": ".2f", "grid": true, "labelFlush": false, "labelOverlap": false, "titleX": -77, "titleBaseline": "middle"}},
            "color": {"field": "reeks", "type": "nominal", "title": null,
              "scale": {
                "domain": ["DO-T1WH","DO-T10WH","DO-T25WH","DO-T50WH","DO-T100WH","DO-T100WH+5%","DO-T100WH+10%","Locatie 1: Meander 't Laar","Locatie 2: Sluisplein","Locatie 3: Nabij Phillipusbrug","Locatie 4: Nabij kanodrempels","Locatie 5: Nabij Cathalijnepad"],
                "range": ["#4270B0","#F79646","#9BBB59","#8064A2","#4BACC6","#C4BD97","#C0504D","#8AAE48","#3A8FB0","#C84B4D","#93CDDD","#A99CC8"]}},
            "strokeDash": {"field": "reeks", "type": "nominal", "title": null,
              "scale": {
                "domain": ["DO-T1WH","DO-T10WH","DO-T25WH","DO-T50WH","DO-T100WH","DO-T100WH+5%","DO-T100WH+10%","Locatie 1: Meander 't Laar","Locatie 2: Sluisplein","Locatie 3: Nabij Phillipusbrug","Locatie 4: Nabij kanodrempels","Locatie 5: Nabij Cathalijnepad"],
                "range": [[1,0],[1,0],[1,0],[1,0],[1,0],[1,0],[1,0],[11,5],[11,5],[11,5],[11,5],[11,5]]}}
          }
        },
        {
          "data": {"name": "t1"},
          "mark": {"type": "line", "strokeWidth": 3.5, "strokeJoin": "round"},
          "encoding": {
            "x": {"field": "x", "type": "quantitative", "title": "Afstand vanaf het Hoogakkerpad"},
            "y": {"field": "peil", "type": "quantitative", "title": "Waterstand [m+NAP]"},
            "color": {"datum": "DO-T1WH", "type": "nominal", "title": null},
            "strokeDash": {"datum": "DO-T1WH", "type": "nominal", "title": null}
          }
        },
        {
          "data": {"name": "locaties"},
          "mark": {"type": "rule", "strokeWidth": 3},
          "encoding": {
            "x": {"field": "x", "type": "quantitative", "title": "Afstand vanaf het Hoogakkerpad"},
            "color": {"field": "reeks", "type": "nominal", "title": null},
            "strokeDash": {"field": "reeks", "type": "nominal", "title": null}
          }
        }
      ]
    },
    {
      "data": {"name": "kunstwerken"},
      "mark": {"type": "rule", "strokeWidth": 3},
      "encoding": {
        "x": {"field": "x", "type": "quantitative", "title": "Afstand vanaf het Hoogakkerpad"},
        "color": {"field": "naam", "type": "nominal", "legend": null,
          "scale": {
            "domain": ["A50","Start Meander\n't Laar","Hambrug","Kanodrempels","Instroom HG","Ahrend","Uitstroom HG"],
            "range": ["#B0CC8C","#D09090","#77993C","#604A7E","#31839B","#F8B48E","#BA6A2A"]}}
      }
    },
    {
      "data": {"name": "kunstwerken"},
      "transform": [{"filter": "datum.naam === 'A50'"}],
      "mark": {"type": "text", "angle": 270, "align": "right", "baseline": "middle", "font": "DejaVu Sans", "fontSize": 19, "color": "#000000"},
      "encoding": {
        "x": {"field": "x", "type": "quantitative", "title": "Afstand vanaf het Hoogakkerpad"},
        "y": {"datum": 12.274, "type": "quantitative"},
        "text": {"field": "naam", "type": "nominal"}
      }
    },
    {
      "data": {"name": "kunstwerken"},
      "transform": [{"filter": "indexof(['Start Meander\\n\\'t Laar','Hambrug','Ahrend','Uitstroom HG'], datum.naam) >= 0"}],
      "mark": {"type": "text", "angle": 270, "align": "right", "baseline": "top", "dy": 9, "lineBreak": "\n", "lineHeight": 28, "font": "DejaVu Sans", "fontSize": 19, "color": "#000000"},
      "encoding": {
        "x": {"field": "x", "type": "quantitative", "title": "Afstand vanaf het Hoogakkerpad"},
        "y": {"datum": 12.274, "type": "quantitative"},
        "text": {"field": "naam", "type": "nominal"}
      }
    },
    {
      "data": {"name": "kunstwerken"},
      "transform": [{"filter": "datum.naam === 'Kanodrempels' || datum.naam === 'Instroom HG'"}],
      "mark": {"type": "text", "angle": 270, "align": "right", "baseline": "bottom", "dy": -2, "font": "DejaVu Sans", "fontSize": 19, "color": "#000000"},
      "encoding": {
        "x": {"field": "x", "type": "quantitative", "title": "Afstand vanaf het Hoogakkerpad"},
        "y": {"datum": 12.274, "type": "quantitative"},
        "text": {"field": "naam", "type": "nominal"}
      }
    }
  ],
  "resolve": {"scale": {"color": "independent"}}
}
